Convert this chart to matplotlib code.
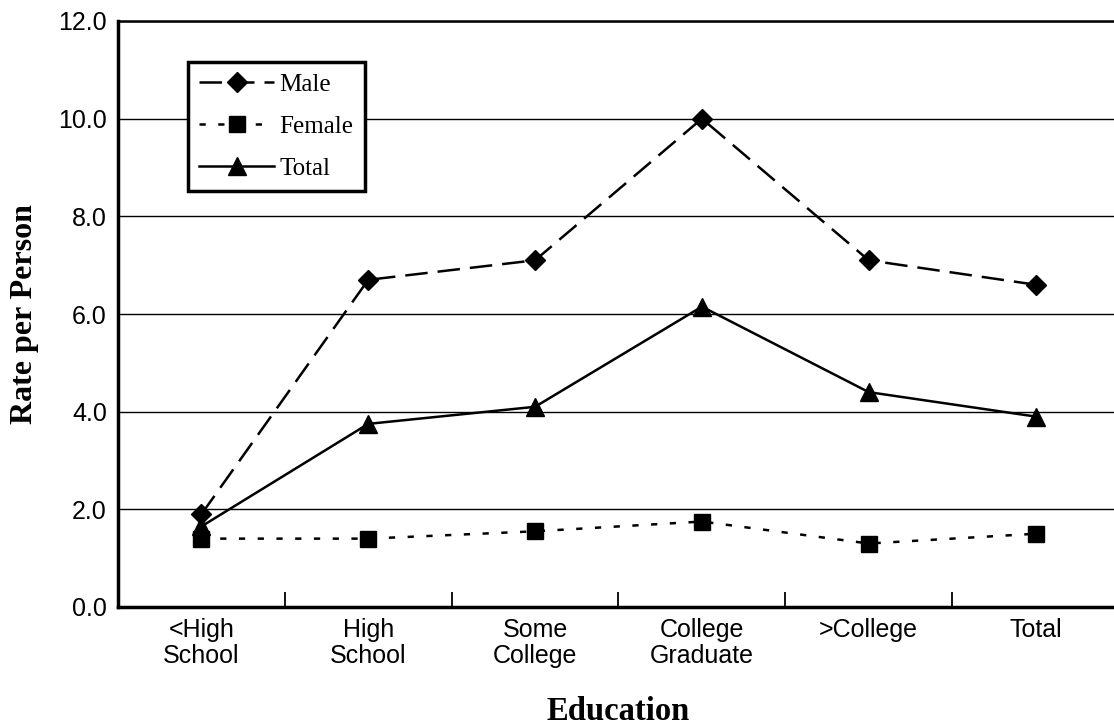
import matplotlib.pyplot as plt
import numpy as np

# data
categories = ['<High\nSchool', 'High\nSchool', 'Some\nCollege', 'College\nGraduate', '>College', 'Total']
male = [1.9, 6.7, 7.1, 10.0, 7.1, 6.6]
female = [1.4, 1.4, 1.55, 1.75, 1.3, 1.5]
total = [1.65, 3.75, 4.1, 6.15, 4.4, 3.9]

x = np.arange(len(categories))

fig = plt.figure(figsize=(11.14, 7.26), dpi=100)
ax = fig.add_axes([118/1114, 119/726, 1001/1114, 586/726])

ax.plot(x, male, color='black', lw=1.8, ls=(0, (9, 4)), marker='D', ms=10, label='Male')
ax.plot(x, female, color='black', lw=1.8, ls=(0, (2.5, 5)), marker='s', ms=12, label='Female')
ax.plot(x, total, color='black', lw=1.8, ls='-', marker='^', ms=13, label='Total')

ax.set_xlim(-0.5, 5.5)
ax.set_ylim(0, 12)
ax.set_yticks(np.arange(0, 13, 2))
ax.set_yticklabels(['%.1f' % v for v in np.arange(0, 13, 2)], family='Liberation Sans', fontsize=18)
ax.set_xticks(x)
ax.set_xticklabels(categories, family='Liberation Sans', fontsize=18, linespacing=1.1)
ax.set_xticks(x[:-1] + 0.5, minor=True)
ax.tick_params(axis='x', which='major', length=0, pad=8)
ax.tick_params(axis='x', which='minor', direction='in', length=11, width=1.3)
ax.tick_params(axis='y', length=0, pad=8)
ax.yaxis.grid(True, color='black', lw=1)
ax.set_axisbelow(True)

for side in ['left', 'bottom']:
    ax.spines[side].set_linewidth(2.5)
ax.spines['top'].set_linewidth(1.8)
ax.spines['right'].set_visible(False)

ax.set_ylabel('Rate per Person', family='Liberation Serif', fontweight='bold', fontsize=23, labelpad=14)
ax.set_xlabel('Education', family='Liberation Serif', fontweight='bold', fontsize=23.5, labelpad=20)

leg = ax.legend(loc='upper left', bbox_to_anchor=(0.07, 0.93), borderaxespad=0,
                prop={'family': 'Liberation Serif', 'size': 18}, fancybox=False,
                framealpha=1, edgecolor='black', handlelength=3.0, handletextpad=0.2,
                labelspacing=0.78, borderpad=0.45)
leg.get_frame().set_linewidth(2.5)

plt.savefig('out.png', dpi=100)
